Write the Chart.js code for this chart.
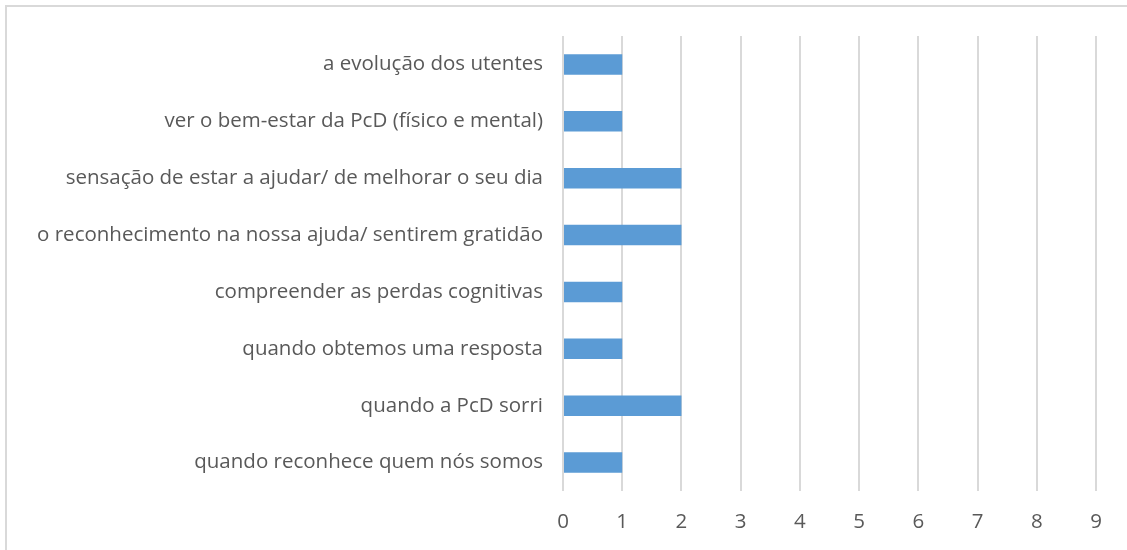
<!DOCTYPE html>
<html>
<head>
<meta charset="utf-8">
<script src="https://cdn.jsdelivr.net/npm/chart.js@4"></script>
<style>
  html, body { margin: 0; padding: 0; background: #fff; overflow: hidden; }
  #frame {
    position: absolute; left: 5px; top: 5px;
    width: 1140px; height: 560px;
    border: 2px solid #d9d9d9;
  }
  #wrap { position: absolute; left: 0; top: 0; width: 1127px; height: 550px; }
</style>
</head>
<body>
<div id="frame"></div>
<div id="wrap"><canvas id="chart"></canvas></div>
<script>
// categories, top to bottom
const categories = [
  "a evolução dos utentes",
  "ver o bem-estar da PcD (físico e mental)",
  "sensação de estar a ajudar/ de melhorar o seu dia",
  "o reconhecimento na nossa ajuda/ sentirem gratidão",
  "compreender as perdas cognitivas",
  "quando obtemos uma resposta",
  "quando a PcD sorri",
  "quando reconhece quem nós somos"
];
const values = [1, 1, 2, 2, 1, 1, 2, 1];
const xMin = 0;
const xMax = 9;

const textColor = "#595959";
const gridColor = "#d9d9d9";

new Chart(document.getElementById("chart"), {
  type: "bar",
  data: {
    labels: categories,
    datasets: [{
      data: values,
      backgroundColor: "#5b9bd5",
      borderWidth: 0,
      categoryPercentage: 1,
      barPercentage: 0.36
    }]
  },
  options: {
    indexAxis: "y",
    responsive: true,
    maintainAspectRatio: false,
    animation: false,
    layout: { padding: { top: 36, right: 31, left: 0, bottom: 0 } },
    plugins: {
      legend: { display: false },
      tooltip: { enabled: false }
    },
    scales: {
      x: {
        min: xMin,
        max: xMax,
        ticks: {
          stepSize: 1,
          color: textColor,
          padding: 19,
          font: { family: "Open Sans", size: 20.5 }
        },
        grid: { color: gridColor, lineWidth: 2, drawTicks: false },
        border: { display: false },
        afterFit: s => { s.height = 59; }
      },
      y: {
        ticks: {
          color: textColor,
          padding: 20,
          font: { family: "Open Sans", size: 20.5 }
        },
        grid: { display: false, drawTicks: false },
        border: { display: false },
        afterFit: s => { s.width = 563; }
      }
    }
  }
});
</script>
</body>
</html>
